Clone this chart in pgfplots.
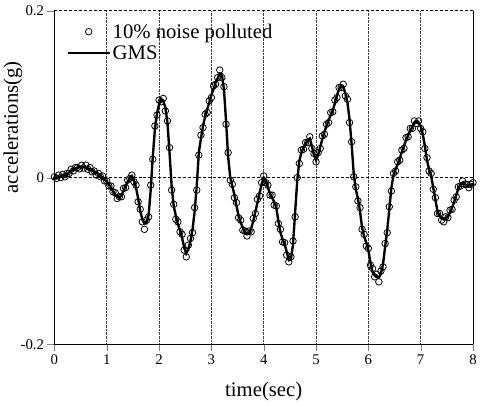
\documentclass[border=0pt]{standalone}
\usepackage{fontspec}
\setmainfont{Liberation Serif}
\usepackage{pgfplots}
\pgfplotsset{compat=1.18}
\usepackage{pgfplotstable}

% t = time (s), g = GMS, n = 10% noise polluted
\pgfplotstableread{
t g n
0.00 0.000 0.001
0.04 0.000 -0.001
0.08 0.001 0.003
0.12 0.001 0.000
0.16 0.002 0.004
0.20 0.003 0.001
0.24 0.004 0.005
0.28 0.006 0.005
0.32 0.008 0.010
0.36 0.010 0.008
0.40 0.011 0.012
0.44 0.012 0.012
0.48 0.0125 0.0105
0.52 0.0128 0.0148
0.56 0.0125 0.0115
0.60 0.012 0.015
0.64 0.011 0.010
0.68 0.010 0.012
0.72 0.009 0.007
0.76 0.007 0.008
0.80 0.006 0.003
0.84 0.004 0.005
0.88 0.002 0.001
0.92 0.000 0.002
0.96 -0.002 -0.004
1.00 -0.005 -0.004
1.04 -0.008 -0.010
1.08 -0.012 -0.010
1.12 -0.016 -0.017
1.16 -0.020 -0.018
1.20 -0.023 -0.025
1.24 -0.024 -0.023
1.28 -0.021 -0.023
1.32 -0.016 -0.013
1.36 -0.010 -0.012
1.40 -0.005 -0.003
1.44 0.000 -0.001
1.48 0.002 0.003
1.52 -0.003 -0.005
1.56 -0.012 -0.009
1.60 -0.025 -0.029
1.64 -0.040 -0.038
1.68 -0.050 -0.053
1.72 -0.055 -0.062
1.76 -0.055 -0.051
1.80 -0.045 -0.047
1.84 -0.015 -0.009
1.88 0.025 0.022
1.92 0.058 0.062
1.96 0.077 0.075
2.00 0.088 0.093
2.04 0.094 0.091
2.08 0.092 0.095
2.12 0.084 0.080
2.16 0.066 0.068
2.20 0.030 0.036
2.24 -0.010 -0.015
2.28 -0.034 -0.032
2.32 -0.046 -0.050
2.36 -0.056 -0.053
2.40 -0.063 -0.065
2.44 -0.072 -0.068
2.48 -0.084 -0.087
2.52 -0.091 -0.095
2.56 -0.086 -0.081
2.60 -0.076 -0.073
2.64 -0.062 -0.066
2.68 -0.040 -0.036
2.72 -0.010 -0.015
2.76 0.030 0.027
2.80 0.047 0.051
2.84 0.062 0.060
2.88 0.073 0.076
2.92 0.082 0.078
2.96 0.090 0.092
3.00 0.099 0.096
3.04 0.106 0.110
3.08 0.114 0.112
3.12 0.119 0.120
3.16 0.125 0.129
3.20 0.124 0.120
3.24 0.106 0.109
3.28 0.068 0.064
3.32 0.025 0.030
3.36 0.000 -0.003
3.40 -0.010 -0.008
3.44 -0.021 -0.024
3.48 -0.034 -0.030
3.52 -0.046 -0.048
3.56 -0.054 -0.051
3.60 -0.060 -0.063
3.64 -0.066 -0.064
3.68 -0.068 -0.070
3.72 -0.067 -0.064
3.76 -0.061 -0.065
3.80 -0.052 -0.049
3.84 -0.041 -0.043
3.88 -0.030 -0.026
3.92 -0.019 -0.022
3.96 -0.008 -0.006
4.00 0.000 0.002
4.04 -0.003 -0.006
4.08 -0.012 -0.009
4.12 -0.019 -0.021
4.16 -0.024 -0.021
4.20 -0.029 -0.033
4.24 -0.036 -0.034
4.28 -0.052 -0.055
4.32 -0.066 -0.062
4.36 -0.074 -0.077
4.40 -0.080 -0.078
4.44 -0.089 -0.093
4.48 -0.099 -0.101
4.52 -0.098 -0.095
4.56 -0.080 -0.076
4.60 -0.042 -0.047
4.64 -0.004 0.000
4.68 0.020 0.017
4.72 0.030 0.033
4.76 0.036 0.034
4.80 0.040 0.042
4.84 0.045 0.042
4.88 0.047 0.049
4.92 0.038 0.035
4.96 0.027 0.029
5.00 0.021 0.019
5.04 0.027 0.030
5.08 0.037 0.035
5.12 0.046 0.050
5.16 0.055 0.052
5.20 0.062 0.064
5.24 0.069 0.066
5.28 0.075 0.078
5.32 0.081 0.079
5.36 0.089 0.093
5.40 0.099 0.096
5.44 0.106 0.108
5.48 0.110 0.108
5.52 0.109 0.112
5.56 0.101 0.098
5.60 0.090 0.094
5.64 0.070 0.066
5.68 0.040 0.043
5.72 0.005 0.001
5.76 -0.014 -0.011
5.80 -0.025 -0.028
5.84 -0.040 -0.036
5.88 -0.060 -0.062
5.92 -0.071 -0.068
5.96 -0.078 -0.082
6.00 -0.087 -0.085
6.04 -0.102 -0.105
6.08 -0.113 -0.109
6.12 -0.117 -0.119
6.16 -0.119 -0.116
6.20 -0.120 -0.125
6.24 -0.115 -0.112
6.28 -0.104 -0.107
6.32 -0.083 -0.079
6.36 -0.063 -0.066
6.40 -0.038 -0.035
6.44 -0.012 -0.016
6.48 0.003 0.005
6.52 0.010 0.008
6.56 0.016 0.019
6.60 0.023 0.021
6.64 0.031 0.033
6.68 0.038 0.035
6.72 0.045 0.048
6.76 0.051 0.049
6.80 0.056 0.059
6.84 0.061 0.059
6.88 0.066 0.068
6.92 0.067 0.065
6.96 0.066 0.068
7.00 0.062 0.059
7.04 0.052 0.055
7.08 0.038 0.035
7.12 0.021 0.024
7.16 0.010 0.008
7.20 0.002 0.005
7.24 -0.012 -0.014
7.28 -0.026 -0.024
7.32 -0.040 -0.043
7.36 -0.046 -0.043
7.40 -0.049 -0.051
7.44 -0.050 -0.053
7.48 -0.049 -0.047
7.52 -0.046 -0.048
7.56 -0.042 -0.039
7.60 -0.036 -0.038
7.64 -0.029 -0.027
7.68 -0.021 -0.023
7.72 -0.013 -0.011
7.76 -0.008 -0.010
7.80 -0.006 -0.004
7.84 -0.007 -0.008
7.88 -0.010 -0.008
7.92 -0.011 -0.012
7.96 -0.009 -0.008
8.00 -0.007 -0.006
}\accdata

\begin{document}
\begin{tikzpicture}
\begin{axis}[
  width=423bp, height=337bp, scale only axis,
  xmin=0, xmax=8, ymin=-0.2, ymax=0.2,
  xtick={0,1,...,8}, ytick={-0.2,0,0.2}, yticklabels={-0.2,0,0.2},
  axis x line*=bottom, axis y line*=box, ytick pos=left,
  tick align=outside, major tick length=7bp,
  axis line style={line width=1bp},
  xmajorgrids, ymajorgrids,
  x grid style={densely dotted, black!75, line width=0.8bp},
  y grid style={black, line width=0.8bp, dash pattern=on 3bp off 2bp},
  xlabel={time(sec)}, ylabel={accelerations(g)},
  xlabel style={at={(axis description cs:0.5,-0.157)}, anchor=base},
  ylabel style={at={(axis description cs:-0.0993,0.651)}, anchor=center},
  tick label style={font=\fontsize{15}{17}\selectfont},
  label style={font=\fontsize{21}{24}\selectfont},
  /pgf/number format/assume math mode=true,
  legend style={draw=none, fill=none, at={(axis description cs:0.029,0.968)}, anchor=north west,
    font=\fontsize{21}{24}\selectfont, inner sep=0pt, row sep=2bp,
    /tikz/every even column/.style={column sep=0pt}},
  legend cell align=left,
  legend image code/.code={\draw[mark repeat=2,mark phase=2,#1] plot coordinates {(0bp,0bp) (21bp,0bp) (42bp,0bp)};},
]
\addplot[only marks, mark=o, mark size=3.3bp, mark options={line width=0.8bp}] table[x=t, y=n] {\accdata};
\addlegendentry{10\% noise polluted}
\addplot[black, line width=2.4bp] table[x=t, y=g] {\accdata};
\addlegendentry{GMS}
\end{axis}
\path ([xshift=-55bp,yshift=-62bp]current axis.south west) rectangle ([xshift=2bp,yshift=11bp]current axis.north east);
\end{tikzpicture}
\end{document}
